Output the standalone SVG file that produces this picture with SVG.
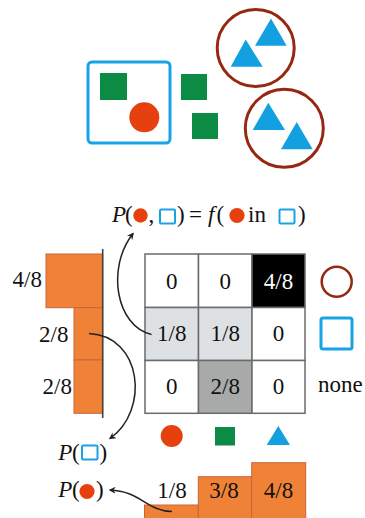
<svg xmlns="http://www.w3.org/2000/svg" width="365" height="518" viewBox="0 0 365 518">
<defs>
<style>
text{font-family:'Liberation Serif','Times New Roman','DejaVu Serif',serif;font-size:23px;fill:#111}
.it{font-style:italic}
.m{text-anchor:middle}
.e{text-anchor:end}
.red{fill:#e6400f}
.grn{fill:#0b8b44}
.blu{fill:#12a0e0}
.bbox{fill:none;stroke:#1aa3e4;stroke-width:2}
.ring{fill:none;stroke:#962812}
.bar{fill:#f08238;stroke:#c8643c;stroke-width:1}
.cell{stroke:#6b6b6b;stroke-width:1.5}
.conn{fill:none;stroke:#222;stroke-width:1.5}
</style>
<marker id="ah" viewBox="0 0 10 10" refX="8" refY="5" markerWidth="7" markerHeight="7" orient="auto" markerUnits="userSpaceOnUse">
<path d="M0,0 L10,5 L0,10 L3,5 Z" fill="#222"/>
</marker>
</defs>
<rect width="365" height="518" fill="#fff"/>

<g id="scene">
<rect x="88" y="62" width="82" height="81" rx="4" fill="none" stroke="#1aa3e4" stroke-width="3"/>
<rect class="grn" x="100" y="73" width="27" height="27"/>
<circle class="red" cx="144.3" cy="117.3" r="15"/>
<rect class="grn" x="181" y="74" width="26" height="26"/>
<rect class="grn" x="192" y="113" width="26" height="26"/>
<circle class="ring" cx="255.7" cy="48" r="38.5" stroke-width="3"/>
<polygon class="blu" points="271,18.5 255,45.7 286.7,45.7"/>
<polygon class="blu" points="245.7,39.5 230.7,66.7 262.7,66.7"/>
<circle class="ring" cx="284.3" cy="128.3" r="39" stroke-width="3"/>
<polygon class="blu" points="268.3,102.7 252.7,130 285,130"/>
<polygon class="blu" points="296.7,122 281,149.3 312.7,149.3"/>
</g>

<g id="formula">
<text class="it" x="112" y="222">P</text>
<text x="125" y="222">(</text>
<circle class="red" cx="140.5" cy="215.5" r="7.2"/>
<text x="148.5" y="222">,</text>
<rect class="bbox" x="160" y="209.5" width="15" height="14" rx="1"/>
<text x="177" y="222">)</text>
<text x="189" y="222">=</text>
<text class="it" x="208" y="222">f</text>
<text x="216.5" y="222">(</text>
<circle class="red" cx="237" cy="215.5" r="7.6"/>
<text x="248" y="222">in</text>
<rect class="bbox" x="279.5" y="209.5" width="15" height="14" rx="1"/>
<text x="298" y="222">)</text>
</g>

<g id="left-bars">
<rect class="bar" x="46" y="254" width="56.7" height="53.7"/>
<rect class="bar" x="74" y="307.7" width="28.7" height="52.3"/>
<rect class="bar" x="74" y="360" width="28.7" height="53.3"/>
<line x1="102.7" y1="249" x2="102.7" y2="418" stroke="#444" stroke-width="1.6"/>
<text class="e" x="42" y="287">4/8</text>
<text class="e" x="68.5" y="341.5">2/8</text>
<text class="e" x="72" y="393.5">2/8</text>
</g>

<g id="grid">
<rect class="cell" x="145" y="254" width="53.5" height="53.5" fill="#fff"/>
<rect class="cell" x="198.5" y="254" width="53.5" height="53.5" fill="#fff"/>
<rect class="cell" x="252" y="254" width="53" height="53.5" fill="#000"/>
<rect class="cell" x="145" y="307.5" width="53.5" height="53" fill="#dee1e4"/>
<rect class="cell" x="198.5" y="307.5" width="53.5" height="53" fill="#dee1e4"/>
<rect class="cell" x="252" y="307.5" width="53" height="53" fill="#fff"/>
<rect class="cell" x="145" y="360.5" width="53.5" height="52.8" fill="#fff"/>
<rect class="cell" x="198.5" y="360.5" width="53.5" height="52.8" fill="#a8aaa9"/>
<rect class="cell" x="252" y="360.5" width="53" height="52.8" fill="#fff"/>
<text class="m" x="171.8" y="288.5">0</text>
<text class="m" x="225.2" y="288.5">0</text>
<text class="m" x="278.5" y="288.5" style="fill:#fff">4/8</text>
<text class="m" x="171.8" y="341">1/8</text>
<text class="m" x="225.2" y="341">1/8</text>
<text class="m" x="278.5" y="341">0</text>
<text class="m" x="171.8" y="394">0</text>
<text class="m" x="225.2" y="394">2/8</text>
<text class="m" x="278.5" y="394">0</text>
</g>

<g id="row-legend">
<circle class="ring" cx="336.7" cy="281.7" r="15" stroke-width="2.5"/>
<rect x="321" y="318" width="31" height="31" rx="2" fill="none" stroke="#1aa3e4" stroke-width="3"/>
<text x="318" y="392">none</text>
</g>

<g id="col-legend">
<circle class="red" cx="171.7" cy="436" r="11"/>
<rect class="grn" x="215" y="427" width="20" height="18.5"/>
<polygon class="blu" points="278.3,426 266.7,445 290,445"/>
</g>

<g id="bottom-bars">
<rect class="bar" x="144.5" y="505" width="53.8" height="20"/>
<rect class="bar" x="198.3" y="476.7" width="53.4" height="50"/>
<rect class="bar" x="251.7" y="462.7" width="54" height="60"/>
<text class="m" x="172" y="498">1/8</text>
<text class="m" x="224" y="498">3/8</text>
<text class="m" x="278.5" y="498">4/8</text>
</g>

<g id="label-p-box">
<text class="it" x="58.3" y="460">P</text>
<text x="72" y="460">(</text>
<rect class="bbox" x="82" y="445.5" width="15.5" height="14" rx="1"/>
<text x="99.5" y="460">)</text>
</g>

<g id="label-p-dot">
<text class="it" x="58.3" y="497">P</text>
<text x="72" y="497">(</text>
<circle class="red" cx="87" cy="491.5" r="7.6"/>
<text x="96" y="497">)</text>
</g>

<g id="connectors">
<path class="conn" d="M151.5,334.5 C116,326 106,268 133,233.5" marker-end="url(#ah)"/>
<path class="conn" d="M89,333.5 C142,336 150,410 110,438.5" marker-end="url(#ah)"/>
<path class="conn" d="M172,511.5 C148,511.5 140,491 110,490" marker-end="url(#ah)"/>
</g>
</svg>
